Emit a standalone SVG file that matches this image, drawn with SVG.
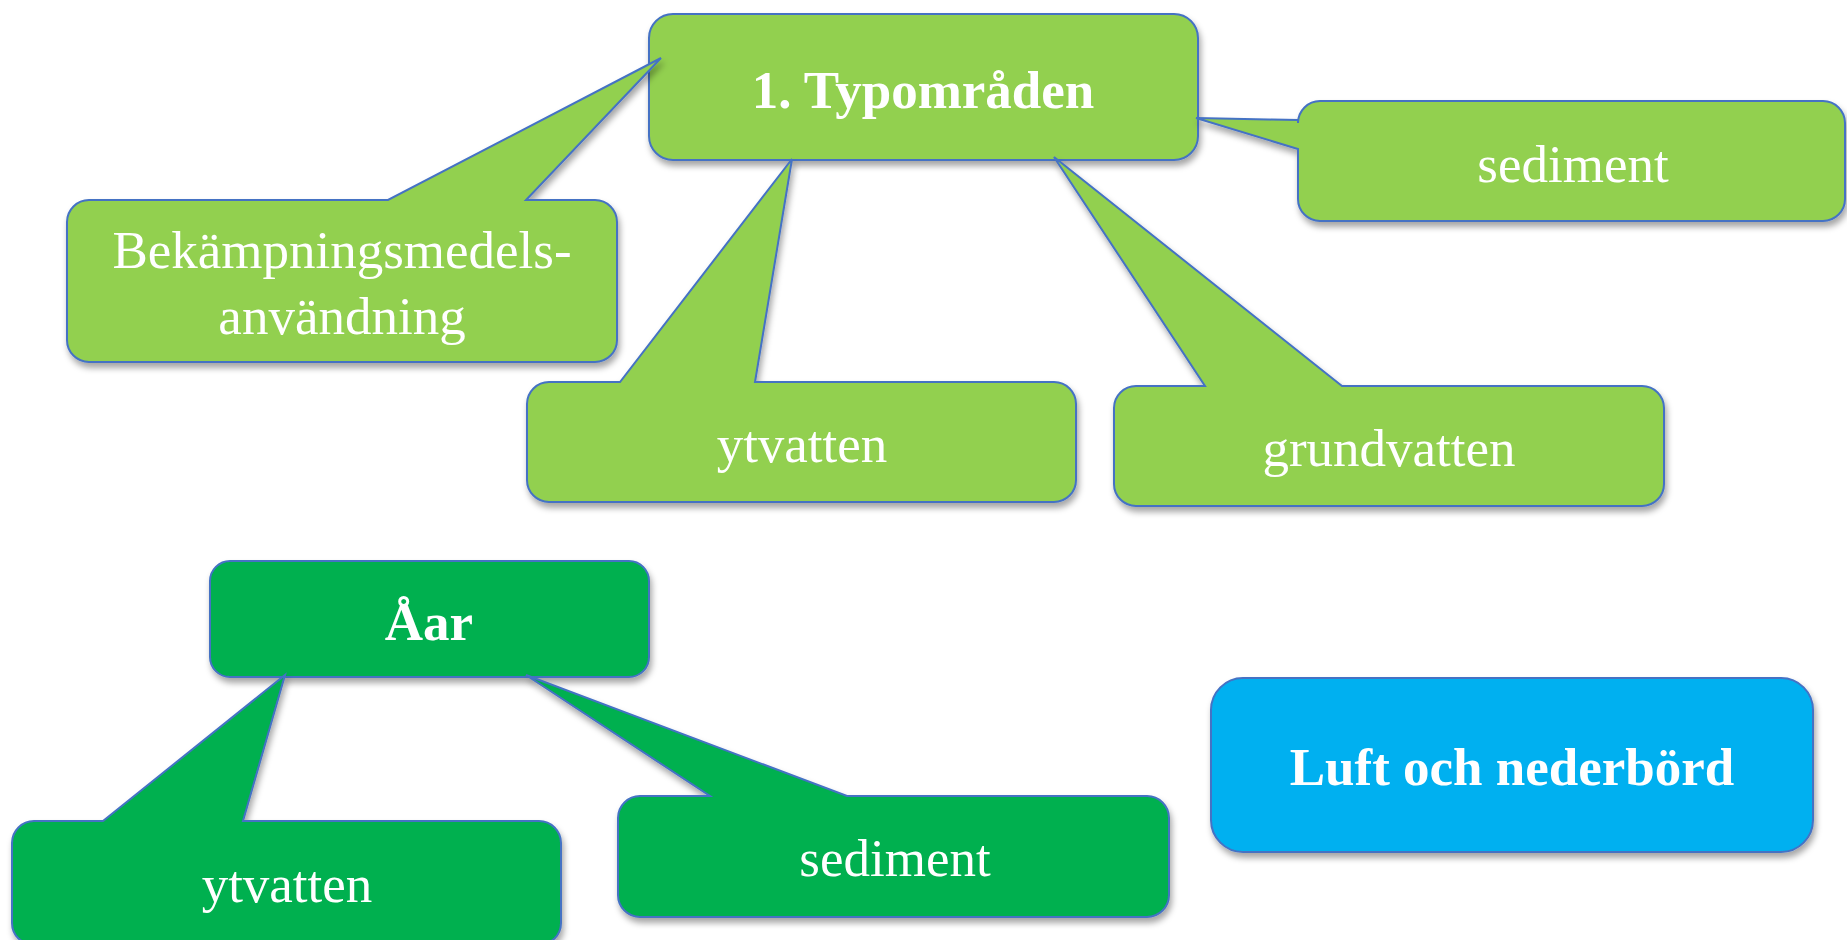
<svg xmlns="http://www.w3.org/2000/svg" width="1847" height="940" viewBox="0 0 1847 940">
<defs>
<filter id="sh" x="-10%" y="-10%" width="120%" height="130%">
<feDropShadow dx="2" dy="5" stdDeviation="3" flood-color="#000" flood-opacity="0.35"/>
</filter>
<style>
.lg{fill:#92D050;stroke:#4472C4;stroke-width:2;stroke-linejoin:miter;filter:url(#sh)}
.dg{fill:#00B050;stroke:#4472C4;stroke-width:2;filter:url(#sh)}
.bl{fill:#00B0F0;stroke:#4472C4;stroke-width:2;filter:url(#sh)}
text{font-family:"Liberation Serif","Times New Roman",serif;fill:#fff;text-anchor:middle;font-size:53px}
.b{font-weight:bold}
</style>
</defs>
<rect width="1847" height="940" fill="#fff"/>
<g id="typomraden">
<rect class="lg" x="649" y="14" width="549" height="146" rx="24"/>
<text class="b" x="923" y="108">1. Typområden</text>
</g>
<g id="aar">
<rect class="dg" x="210" y="561" width="439" height="116" rx="20"/>
<text class="b" x="429" y="640">Åar</text>
</g>
<g id="luft">
<rect class="bl" x="1211" y="678" width="602" height="174" rx="32"/>
<text class="b" x="1512" y="785">Luft och nederbörd</text>
</g>
<g id="connectors"></g>
<g id="bekampning">
<path class="lg" d="M89,200 L388,200 L661,58 L526,200 L595,200 A22,22 0 0 1 617,222 L617,340 A22,22 0 0 1 595,362 L89,362 A22,22 0 0 1 67,340 L67,222 A22,22 0 0 1 89,200 Z"/>
<text x="342" y="268">Bekämpningsmedels-</text>
<text x="342" y="334">användning</text>
</g>
<g id="ytvatten1">
<path class="lg" d="M549,382 L620,382 L792,159 L755,382 L1054,382 A22,22 0 0 1 1076,404 L1076,480 A22,22 0 0 1 1054,502 L549,502 A22,22 0 0 1 527,480 L527,404 A22,22 0 0 1 549,382 Z"/>
<text x="802" y="462">ytvatten</text>
</g>
<g id="grundvatten">
<path class="lg" d="M1136,386 L1205,386 L1054,157 L1342,386 L1642,386 A22,22 0 0 1 1664,408 L1664,484 A22,22 0 0 1 1642,506 L1136,506 A22,22 0 0 1 1114,484 L1114,408 A22,22 0 0 1 1136,386 Z"/>
<text x="1389" y="466">grundvatten</text>
</g>
<g id="sediment1">
<path class="lg" d="M1320,101 L1823,101 A22,22 0 0 1 1845,123 L1845,199 A22,22 0 0 1 1823,221 L1320,221 A22,22 0 0 1 1298,199 L1298,149 L1196,118 L1298,120 L1298,123 A22,22 0 0 1 1320,101 Z"/>
<text x="1573" y="182">sediment</text>
</g>
<g id="ytvatten2">
<path class="dg" d="M34,821 L103,821 L285,675 L243,821 L539,821 A22,22 0 0 1 561,843 L561,923 A22,22 0 0 1 539,945 L34,945 A22,22 0 0 1 12,923 L12,843 A22,22 0 0 1 34,821 Z"/>
<text x="287" y="902">ytvatten</text>
</g>
<g id="sediment2">
<path class="dg" d="M640,796 L710,796 L526,675 L847,796 L1147,796 A22,22 0 0 1 1169,818 L1169,895 A22,22 0 0 1 1147,917 L640,917 A22,22 0 0 1 618,895 L618,818 A22,22 0 0 1 640,796 Z"/>
<text x="895" y="876">sediment</text>
</g>
</svg>
